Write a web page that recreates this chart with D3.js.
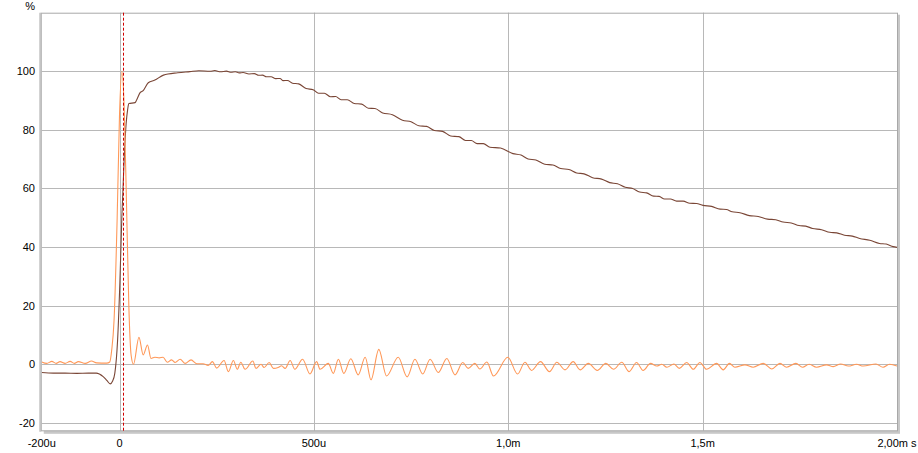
<!DOCTYPE html>
<html><head><meta charset="utf-8">
<script src="https://cdn.jsdelivr.net/npm/d3@7"></script>
<style>
body{margin:0;background:#fff;}
svg{display:block;font-family:"Liberation Sans",Arial,sans-serif;}
</style></head><body>
<svg id="c" width="918" height="453"></svg>
<script>
// time in microseconds, value in %
const stepTime = [-200,-170,-140,-110,-80,-60,-42,-32,-24,-18,-12,-5,1,6,12,17,21,24,40,44,53,61,74,91,113,150,181,204,
 233,245,260,275,287,298,308,318,333,347,358,368,378,390,402,413,421,432,445,461,480,498,512,527,543,556,570,586,604,623,640,657,677,702,728,750,770,790,810,831,852,873,890,905,920,936,953,980,
 1012,1033,1051,1071,1094,1115,1135,1156,1176,1195,1217,1240,1261,1281,1301,1320,1338,1356,1374,1388,1402,1417,1433,1450,1467,1484,1501,1523,1545,1561,1576,1596,1620,1643,1667,1688,1707,1728,1748,1765,1783,1806,1827,1845,1865,1885,1904,1930,1955,1972,1990,2000];
const stepValue = [-2.8,-3.0,-3.0,-3.1,-3.0,-3.0,-4.2,-5.6,-6.7,-5.8,-3.0,8,28,50,70,82,87,89,89.3,90.2,92.7,93.4,96.1,97,98.7,99.5,99.9,100.2,
 100.0,100.25,99.85,100.05,99.65,99.85,99.45,99.6,99.1,99.2,98.65,98.7,98.15,98.15,97.5,97.55,96.83,96.87,95.95,95.7,94.1,93.7,92.5,92.5,91.3,91.4,90.3,90.3,89.0,88.8,87.4,87.3,85.8,85.2,83.3,82.8,81.4,81.2,79.8,79.5,77.9,77.7,76.4,76.4,75.3,75.3,74.1,73.8,
 71.9,71.4,70.1,69.7,68.3,68.0,66.8,66.5,65.3,65.0,63.7,63.2,62.0,61.6,60.4,60.0,58.8,58.5,57.4,57.3,56.4,56.4,55.7,55.7,54.95,54.9,54.25,53.9,52.95,52.85,52.05,51.75,50.75,50.45,49.55,49.35,48.55,48.25,47.35,47.15,46.35,45.95,45.05,44.85,44.05,43.75,42.95,42.35,41.25,41.05,40.15,39.9];

const impTime = [-200,-187,-174,-163,-153,-140,-127,-116,-106,-88,-72,-59,-33,-25,-20,-14,-6,0,6,12,18,24,30,36,50,61,72,81,91,102,112,123,134,143,156,169,184,199,215,228,239,250,269,280,293,303,312,323,343,351,364,372,385,396,408,417,426,439,451,471,490,507,516,537,550,563,577,595,614,632,647,667,687,717,740,760,780,799,820,842,863,883,897,914,927,945,962,999,1024,1043,1060,1083,1106,1125,1146,1167,1185,1206,1229,1251,1271,1292,1311,1330,1347,1366,1382,1395,1408,1426,1440,1459,1476,1493,1510,1536,1553,1569,1583,1609,1630,1656,1678,1699,1716,1740,1757,1774,1793,1819,1836,1855,1875,1896,1913,1946,1964,1981,2000];
const impValue = [0.8,0.3,1.0,0.3,0.9,0.3,1.0,0.3,0.9,0.3,1.1,0.5,0.4,0.8,4.9,15,50,85,100,88,55,20,3,0,9.2,3.2,6.6,2.0,2.4,2.2,2.4,0.7,1.5,0.6,1.7,0.3,1.5,0.2,0.2,-0.4,0.9,-1.3,1.3,-2.5,1.3,-1.7,0.7,-1.7,1.1,-1.4,0,-1.1,0.6,-1.4,-1.1,-0.5,-1.4,1.3,-1.7,1.7,-3.3,0.9,-1.7,0.3,-3.1,1.7,-3.1,1.9,-3.6,2.4,-5.3,5.1,-4.0,2.4,-4.3,1.7,-3.3,1.7,-2.8,2.0,-3.6,0.6,-1.4,0.3,-1.6,0.8,-4.0,2.4,-3.3,0.7,-2.1,0.9,-2.5,0.7,-1.9,0.9,-1.9,0.3,-2.1,0.3,-1.7,0.7,-2.5,0.6,-2.1,0.3,-0.6,0,-1.0,0.1,-1.4,0.6,-1.7,0.6,-1.7,0.3,-1.9,0.3,-1.0,-0.2,-1.0,0.3,-1.6,0.3,-1.0,0.3,-1.0,0,-1.0,-0.2,-0.8,0.1,-0.6,0,-0.6,0.1,-1.0,0,-0.6];

const yTicks = [-20,0,20,40,60,80,100];
const xTicks = [-200,0,500,1000,1500,2000];
const xTickLabels = ["-200u","0","500u","1,0m","1,5m","2,00m s"];
const markerTime = 10;

const svg = d3.select("#c");
const L=41.75, R=897, T=12.7, B=430.8;
const x = d3.scaleLinear().domain([-200,2000]).range([L,R]);
const y = d3.scaleLinear().domain([-22.7,120]).range([B,T]);

// frame shadow
svg.append("rect").attr("x",L+2).attr("y",T+2).attr("width",R-L+1).attr("height",B-T+1).attr("fill","#c8c8c8");
svg.append("rect").attr("x",L).attr("y",T).attr("width",R-L).attr("height",B-T).attr("fill","#fff");

// grid
svg.append("g").selectAll("line").data(yTicks).join("line")
  .attr("x1",L).attr("x2",R).attr("y1",d=>Math.round(y(d))+0.5).attr("y2",d=>Math.round(y(d))+0.5)
  .attr("stroke","#b8b8b8").attr("stroke-width",1);
svg.append("g").selectAll("line").data(xTicks.filter(d=>d>-200&&d<2000)).join("line")
  .attr("y1",T).attr("y2",B).attr("x1",d=>Math.round(x(d))+0.5).attr("x2",d=>Math.round(x(d))+0.5)
  .attr("stroke","#b8b8b8").attr("stroke-width",1);

// frame border
svg.append("rect").attr("x",L-0.5).attr("y",T+0.5).attr("width",R-L+1).attr("height",B-T-0.5)
  .attr("fill","none").attr("stroke","#a8a8a8").attr("stroke-width",1);
svg.append("line").attr("x1",L-1.5).attr("x2",L-1.5).attr("y1",T).attr("y2",B+1).attr("stroke","#c4c4c4").attr("stroke-width",2);

const pts = (t,v)=>t.map((d,i)=>[d,v[i]]);
const line = d3.line().x(d=>x(d[0])).y(d=>y(d[1])).curve(d3.curveMonotoneX);

svg.append("clipPath").attr("id","clp").append("rect").attr("x",L).attr("y",T).attr("width",R-L).attr("height",B-T);
const g = svg.append("g").attr("clip-path","url(#clp)");

g.append("path").attr("d",line(pts(stepTime,stepValue))).attr("fill","none").attr("stroke","#7a4636").attr("stroke-width",1.1);
g.append("path").attr("d",line(pts(impTime,impValue))).attr("fill","none").attr("stroke","#ff9858").attr("stroke-width",1.1);

// marker
svg.append("line").attr("x1",Math.round(x(markerTime))+0.5).attr("x2",Math.round(x(markerTime))+0.5).attr("y1",T).attr("y2",B)
  .attr("stroke","#d00000").attr("stroke-width",1).attr("stroke-dasharray","3,2");

// labels
svg.append("g").selectAll("text").data(yTicks).join("text")
  .attr("x",35).attr("y",d=>y(d)).attr("dy","0.35em").attr("text-anchor","end")
  .attr("font-size",11).attr("fill","#000").text(d=>d);
svg.append("text").attr("x",35).attr("y",10).attr("text-anchor","end").attr("font-size",11).text("%");
svg.append("g").selectAll("text").data(xTicks).join("text")
  .attr("x",d=>x(d)).attr("y",447).attr("text-anchor","middle")
  .attr("font-size",11).attr("fill","#000").text((d,i)=>xTickLabels[i]);
</script></body></html>
